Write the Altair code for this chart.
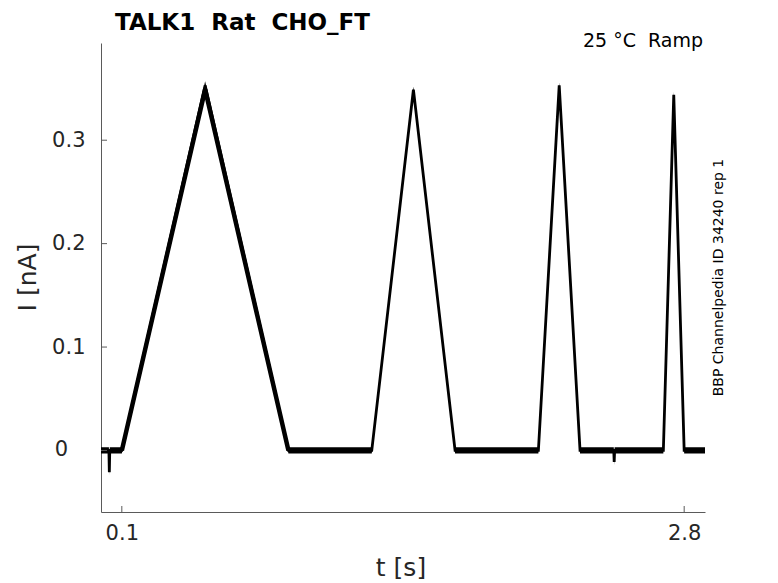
import altair as alt
import pandas as pd

# Trace vertices (time in s, current in nA)
T = [0.0, 0.038, 0.040, 0.042, 0.1, 0.5, 0.9, 1.3, 1.5, 1.7, 2.1, 2.2, 2.3,
     2.462, 2.464, 2.466, 2.7, 2.75, 2.8, 2.9]
I = [0.0, 0.0, -0.021, 0.0, 0.0, 0.353, 0.0, 0.0, 0.349, 0.0, 0.0, 0.353, 0.0,
     0.0, -0.011, 0.0, 0.0, 0.344, 0.0, 0.0]
# half-width of the noise band around each vertex (nA)
NOISE = [0.003, 0.003, 0.003, 0.003, 0.003, 0.004, 0.003, 0.003, 0.003, 0.003,
         0.003, 0.003, 0.003, 0.003, 0.003, 0.003, 0.003, 0.003, 0.003, 0.003]
# the slow first ramp looks noisier (thicker trace)
RAMP1_T = [0.1, 0.5, 0.9]
RAMP1_I = [0.0, 0.349, 0.0]

Y_TICKS = [0, 0.1, 0.2, 0.3]
X_TICKS = [0.1, 2.8]

TITLE = "TALK1\u00a0\u00a0Rat\u00a0\u00a0CHO_FT"
CORNER = "25 \u00b0C\u00a0\u00a0Ramp"
SIDE = "BBP Channelpedia ID 34240 rep 1"

W, H = 604, 469
XDOM = [0.0, 2.9]
YDOM = [-0.0595, 0.394]
AX = "#5a5a5a"
LAB = "#262626"

df = pd.DataFrame({"t": T, "I": I, "n": NOISE})
df["lo"] = df["I"] - df["n"]
df["hi"] = df["I"] + df["n"]
r1 = pd.DataFrame({"t": RAMP1_T, "I": RAMP1_I})

xs = alt.Scale(domain=XDOM, nice=False, zero=False)
ys = alt.Scale(domain=YDOM, nice=False, zero=False)

xaxis = alt.Axis(values=X_TICKS, labelExpr="format(datum.value, '.1f')",
                 ticks=False, grid=False, title=None, domainColor=AX, domainWidth=1,
                 labelFontSize=21, labelColor=LAB, labelPadding=10)
yaxis = alt.Axis(values=Y_TICKS,
                 labelExpr="datum.value == 0 ? '' : format(datum.value, '.1f')",
                 ticks=False, grid=False, title=None, domainColor=AX, domainWidth=1,
                 labelFontSize=21, labelColor=LAB, labelPadding=16)

band = alt.Chart(df).mark_area(color="black", opacity=1).encode(
    x=alt.X("t:Q", scale=xs, axis=xaxis),
    y=alt.Y("lo:Q", scale=ys, axis=yaxis),
    y2="hi:Q",
)
line = alt.Chart(df).mark_line(color="black", strokeWidth=2.8).encode(
    x=alt.X("t:Q", scale=xs),
    y=alt.Y("I:Q", scale=ys),
)
ramp1 = alt.Chart(r1).mark_line(color="black", strokeWidth=4.5).encode(
    x=alt.X("t:Q", scale=xs),
    y=alt.Y("I:Q", scale=ys),
)

ytick = alt.Chart(pd.DataFrame({"v": Y_TICKS})).mark_rule(color=AX, strokeWidth=1).encode(
    y=alt.Y("v:Q", scale=ys), x=alt.value(0), x2=alt.value(6))
xtick = alt.Chart(pd.DataFrame({"v": X_TICKS})).mark_rule(color=AX, strokeWidth=1).encode(
    x=alt.X("v:Q", scale=xs), y=alt.value(H), y2=alt.value(H - 6))

# the "0" tick label sits a little left of the others in the reference
zero_lab = alt.Chart(pd.DataFrame({"v": [0], "s": ["0"]})).mark_text(
    fontSize=21, align="center", baseline="middle", color=LAB).encode(
    y=alt.Y("v:Q", scale=ys), x=alt.value(-39.5), text="s:N")

one = alt.Data(values=[{}])
title = alt.Chart(one).mark_text(fontSize=23, fontWeight="bold", align="left", baseline="alphabetic",
                                 color="black").encode(
    x=alt.value(14), y=alt.value(-13.5), text=alt.value(TITLE))
corner = alt.Chart(one).mark_text(fontSize=19, align="right", baseline="alphabetic", color="black").encode(
    x=alt.value(602), y=alt.value(4), text=alt.value(CORNER))
side = alt.Chart(one).mark_text(fontSize=14, align="center", baseline="alphabetic", angle=270,
                                color="black").encode(
    x=alt.value(622), y=alt.value(H / 2), text=alt.value(SIDE))
ylab = alt.Chart(one).mark_text(fontSize=25, align="center", baseline="alphabetic", angle=270,
                                color=LAB).encode(
    x=alt.value(-65), y=alt.value(H / 2), text=alt.value("I [nA]"))
xlab = alt.Chart(one).mark_text(fontSize=25, align="center", baseline="alphabetic", color=LAB).encode(
    x=alt.value(300), y=alt.value(533), text=alt.value("t [s]"))

chart = alt.layer(band, line, ramp1, ytick, xtick, zero_lab, title, corner, side, ylab, xlab).properties(
    width=W, height=H,
    autosize=alt.AutoSizeParams(type="none"),
    padding={"left": 93, "top": 35, "right": 60, "bottom": 71},
).configure(font="DejaVu Sans").configure_view(stroke=None)

chart.save("out.html", embed_options={"renderer": "svg", "actions": False})
